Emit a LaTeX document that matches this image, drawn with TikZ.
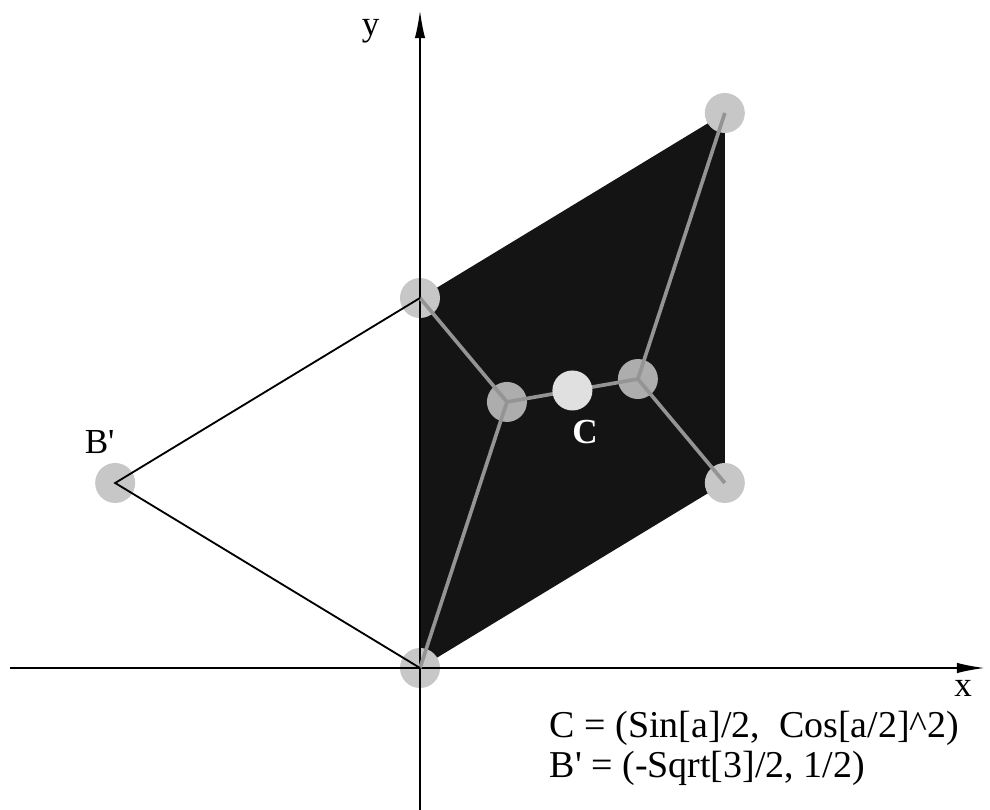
\documentclass[tikz,border=0pt]{standalone}
\usepackage{fontspec}
\setmainfont{Liberation Serif}
\usetikzlibrary{arrows.meta}

\definecolor{dotgray}{gray}{0.78}
\definecolor{innergray}{gray}{0.68}
\definecolor{centergray}{gray}{0.88}
\definecolor{linegray}{gray}{0.58}
\definecolor{fillblack}{gray}{0.08}

\begin{document}
\begin{tikzpicture}[x=8.8cm, y=9.25cm,
    dot/.style={circle, fill=#1, minimum size=1cm, inner sep=0pt},
    dot/.default=dotgray,
    axisline/.style={line width=1.3pt, -{Latex[length=7mm,width=2.6mm]}},
    edge/.style={line width=1.3pt},
    inner/.style={line width=2.6pt, linegray},
    lbl/.style={font=\fontsize{25}{30}\selectfont}]
    \useasboundingbox (-1.19318,-0.38378) rectangle (1.61932,1.80541);
    % the rhombus
    \fill[fillblack] (0,0) -- (0,1) -- (0.866,1.5) -- (0.866,0.5) -- cycle;
    \node[dot] (origin) at (0,0) {};
    \node[dot] (ptop) at (0,1) {};
    \node[dot] (pfar) at (0.866,1.5) {};
    \node[dot] (pright) at (0.866,0.5) {};
    \node[dot] (bprime) at (-0.866,0.5) {};
    \node[dot=innergray] (sleft) at (0.247,0.719) {};
    \node[dot=innergray] (sright) at (0.619,0.781) {};
    % axes
    \coordinate (xstart) at (-1.165,0);
    \coordinate (xend) at (1.605,0);
    \coordinate (ystart) at (0,-0.384);
    \coordinate (yend) at (0,1.778);
    \draw[axisline] (xstart) -- (xend);
    \draw[axisline] (ystart) -- (yend);
    \node[lbl] (xlabel) at (1.543,-0.054) {x};
    \node[lbl] (ylabel) at (-0.14,1.72) {y};
    % tree inside
    \draw[inner] (ptop.center) -- (sleft.center) -- (origin.center);
    \draw[inner] (pfar.center) -- (sright.center) -- (pright.center);
    \draw[inner] (sleft.center) -- (sright.center);
    \node[dot=centergray] (cpoint) at (0.433,0.75) {};
    \node[lbl, text=white, font=\fontsize{25}{30}\selectfont\bfseries] (clabel) at (0.469,0.638) {C};
    % B' lines
    \draw[edge] (ptop.center) -- (bprime.center) -- (origin.center);
    \node[lbl] (blabel) at (-0.91,0.61) {B\textquotesingle};
    \node[lbl, anchor=north west, align=left, font=\fontsize{27}{29}\selectfont] (formula) at (0.355,-0.102)
        {C = (Sin[a]/2,\ \ Cos[a/2]\textasciicircum2)\\B\textquotesingle\ = (-Sqrt[3]/2, 1/2)};
\end{tikzpicture}
\end{document}
